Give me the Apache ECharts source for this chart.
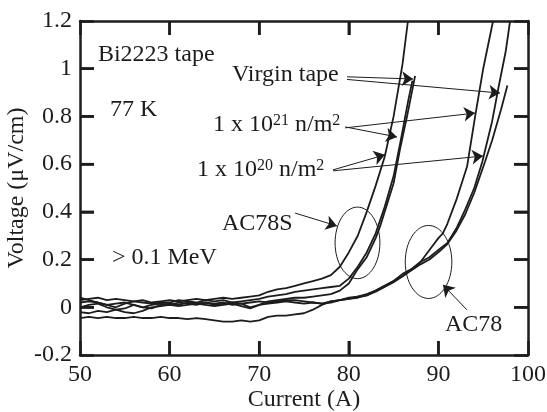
<!DOCTYPE html>
<html>
<head>
<meta charset="utf-8">
<script src="https://cdn.jsdelivr.net/npm/echarts@6/dist/echarts.min.js"></script>
<style>
html, body { margin: 0; padding: 0; background: #fff; }
#box1 { width: 547px; height: 412px; }
</style>
</head>
<body>
<div id="box1"></div>
<script>
// AC78S samples [current (A), voltage (uV/cm)]
var ac78s_1e20 = [[50,0.03],[51,0.035],[52,0.04],[53,0.03],[54,0.035],[55,0.03],[56,0.025],[57,0.03],[58,0.02],[59,0.025],[60,0.03],[61,0.025],[62,0.03],[63,0.035],[64,0.03],[65,0.035],[66,0.04],[67,0.035],[68,0.04],[69,0.045],[70,0.05],[71,0.065],[72,0.075],[73,0.08],[74,0.09],[75,0.1],[76,0.11],[77,0.12],[78,0.135],[79,0.17],[80,0.23],[81,0.3],[82,0.4],[83,0.51],[84,0.63],[85,0.8],[86,1.02],[86.6,1.2]];
var ac78s_1e21 = [[50,0.04],[51,0.03],[52,0.02],[53,0.01],[54,0.0],[55,0.015],[56,0.025],[57,0.02],[58,0.015],[59,0.02],[60,0.02],[61,0.03],[62,0.025],[63,0.02],[64,0.03],[65,0.025],[66,0.03],[67,0.02],[68,0.025],[69,0.03],[70,0.035],[71,0.045],[72,0.05],[73,0.055],[74,0.065],[75,0.07],[76,0.075],[77,0.08],[78,0.085],[79,0.09],[80,0.12],[81,0.17],[82,0.23],[83,0.31],[84,0.42],[85,0.55],[85.8,0.7],[86.6,0.86],[87.1,0.95]];
var ac78s_virgin = [[50,0.0],[51,0.01],[52,0.015],[53,0.0],[54,-0.01],[55,-0.005],[56,0.01],[57,0.0],[58,-0.005],[59,0.01],[60,0.015],[61,0.01],[62,0.02],[63,0.015],[64,0.02],[65,0.01],[66,0.015],[67,0.02],[68,0.015],[69,0.0],[70,0.01],[71,0.025],[72,0.03],[73,0.035],[74,0.04],[75,0.04],[76,0.045],[77,0.05],[78,0.055],[79,0.07],[80,0.1],[80.5,0.13],[81,0.16],[82,0.21],[83,0.29],[83.5,0.34],[84,0.4],[85,0.52],[85.7,0.66],[86.5,0.8],[87.4,0.97]];
// AC78 samples
var ac78_1e21 = [[50,0.02],[51,0.025],[52,0.02],[53,0.01],[54,0.015],[55,0.02],[56,0.01],[57,0.0],[58,0.01],[59,0.015],[60,0.01],[61,0.02],[62,0.015],[63,0.01],[64,0.02],[65,0.015],[66,0.02],[67,0.01],[68,0.015],[69,0.02],[70,0.025],[71,0.02],[72,0.025],[73,0.03],[74,0.03],[75,0.025],[76,0.02],[77,0.015],[78,0.025],[79,0.03],[80,0.04],[81,0.045],[82,0.05],[83,0.07],[84,0.09],[85,0.11],[86,0.14],[87,0.16],[88,0.19],[89,0.24],[90,0.29],[90.5,0.31],[91,0.35],[92,0.45],[93.2,0.59],[94.1,0.8],[95,1.0],[96.1,1.2]];
var ac78_1e20 = [[50,-0.02],[51,-0.025],[52,-0.015],[53,-0.02],[54,-0.01],[55,-0.02],[56,-0.025],[57,-0.015],[58,0.0],[59,0.005],[60,0.01],[61,0.005],[62,0.01],[63,0.015],[64,0.01],[65,0.005],[66,0.01],[67,0.015],[68,0.005],[69,-0.005],[70,0.01],[71,0.015],[72,0.02],[73,0.025],[74,0.02],[75,0.015],[76,0.02],[77,0.015],[78,0.02],[79,0.03],[80,0.035],[81,0.04],[82,0.05],[83,0.065],[84,0.085],[85,0.105],[86,0.13],[87,0.16],[88,0.19],[89,0.21],[90,0.24],[91,0.27],[92,0.33],[93,0.41],[94,0.5],[94.9,0.61],[96,0.78],[96.7,0.92],[97.5,1.07],[98,1.2]];
var ac78_virgin = [[50,-0.045],[51,-0.04],[52,-0.045],[53,-0.04],[54,-0.045],[55,-0.045],[56,-0.04],[57,-0.045],[58,-0.045],[59,-0.04],[60,-0.045],[61,-0.045],[62,-0.05],[63,-0.045],[64,-0.05],[65,-0.055],[66,-0.06],[67,-0.06],[68,-0.055],[69,-0.06],[70,-0.055],[71,-0.04],[72,-0.035],[73,-0.035],[74,-0.03],[75,-0.025],[76,-0.01],[77,0.01],[78,0.025],[79,0.03],[80,0.035],[81,0.045],[82,0.055],[83,0.07],[84,0.09],[85,0.11],[86,0.13],[87,0.155],[88,0.18],[89,0.2],[90,0.23],[91,0.265],[92,0.32],[93,0.39],[94,0.48],[95.2,0.61],[96,0.7],[97,0.83],[97.7,0.93]];

// tick positions on the frame
var xTicks = [60, 70, 80, 90];
var yTicks = [0, 0.2, 0.4, 0.6, 0.8, 1.0];

// annotations (data coords)
var labels = [
    {text: 'Bi2223 tape', at: [52.0, 1.058]},
    {text: '77 K', at: [53.35, 0.827]},
    {text: 'Virgin tape', at: [66.96, 0.974]},
    {text: '1 x 10{sup|21} n/m{sup|2}', at: [64.84, 0.764]},
    {text: '1 x 10{sup|20} n/m{sup|2}', at: [63.06, 0.575]},
    {text: 'AC78S', at: [65.85, 0.349]},
    {text: '> 0.1 MeV', at: [53.57, 0.207]},
    {text: 'AC78', at: [90.74, -0.074]}
];
var arrows = [
    [[79.8, 0.966], [87.17, 0.957]],
    [[79.8, 0.955], [96.87, 0.898]],
    [[79.6, 0.756], [85.38, 0.714]],
    [[79.6, 0.752], [94.08, 0.814]],
    [[78.24, 0.576], [84.04, 0.639]],
    [[78.24, 0.572], [94.98, 0.634]],
    [[74.0, 0.395], [78.68, 0.341]],
    [[93.19, -0.011], [90.51, 0.094]]
];
// ellipse: center, half width (A), half height (uV/cm)
var ellipses = [
    {c: [80.97, 0.27], rx: 2.5, ry: 0.15},
    {c: [88.9, 0.19], rx: 2.6, ry: 0.153}
];

var dom = document.getElementById("box1");
var myChart = echarts.init(dom);
var font = 'Liberation Serif';
var ink = '#1c1c1c';
var tickLen = 14;
var gridBox = {left: 80, right: 19, top: 21, bottom: 57};

function tick() {
    return {show: true, inside: true, length: tickLen, lineStyle: {color: ink, width: 2.5}};
}
function axLine() {
    return {show: true, onZero: false, lineStyle: {color: ink, width: 2.5}};
}

function curve(d) {
    return {
        type: 'line', data: d, showSymbol: false, symbol: 'none',
        lineStyle: {color: ink, width: 1.8},
        silent: true, animation: false
    };
}

var series = [ac78s_1e20, ac78s_1e21, ac78s_virgin, ac78_1e21, ac78_1e20, ac78_virgin].map(curve);
series[0].markLine = {
    silent: true,
    symbol: ['none', 'arrow'],
    symbolSize: 11,
    label: {show: false},
    lineStyle: {color: ink, width: 1, type: 'solid'},
    animation: false,
    data: arrows.map(function (a) { return [{coord: a[0]}, {coord: a[1]}]; })
};

option = {
    animation: false,
    grid: {left: gridBox.left, right: gridBox.right, top: gridBox.top, bottom: gridBox.bottom, outerBoundsMode: 'none'},
    xAxis: [
        {
            type: 'value', min: 50, max: 100, interval: 10,
            name: 'Current (A)', nameLocation: 'middle', nameGap: 33, nameMoveOverlap: false,
            nameTextStyle: {fontFamily: font, fontSize: 24, color: ink},
            axisLine: axLine(), axisTick: tick(),
            axisLabel: {fontFamily: font, fontSize: 24, color: ink, margin: 8},
            splitLine: {show: false}
        },
        {
            type: 'value', min: 50, max: 100, interval: 10, position: 'top',
            axisLine: axLine(), axisTick: tick(),
            axisLabel: {show: false}, splitLine: {show: false}
        }
    ],
    yAxis: [
        {
            type: 'value', min: -0.2, max: 1.2, interval: 0.2,
            name: 'Voltage (\u03bcV/cm)', nameLocation: 'middle', nameGap: 51, nameMoveOverlap: false,
            nameTextStyle: {fontFamily: font, fontSize: 24, color: ink},
            axisLine: axLine(), axisTick: tick(),
            axisLabel: {fontFamily: font, fontSize: 24, color: ink, margin: 8},
            splitLine: {show: false}
        },
        {
            type: 'value', min: -0.2, max: 1.2, interval: 0.2, position: 'right',
            axisLine: axLine(), axisTick: tick(),
            axisLabel: {show: false}, splitLine: {show: false}
        }
    ],
    series: series
};

if (option && typeof option === "object") {
    myChart.setOption(option, true);
}

function px(pt) {
    return myChart.convertToPixel({gridIndex: 0}, pt);
}

var W = myChart.getWidth(), H = myChart.getHeight();
var fl = gridBox.left, fr = W - gridBox.right, ft = gridBox.top, fb = H - gridBox.bottom;

var gfx = [];
xTicks.forEach(function (v) {
    var x = px([v, 0.5])[0];
    gfx.push({type: 'rect', silent: true, z: 100, shape: {x: x - 1.25, y: fb - tickLen, width: 2.5, height: tickLen}, style: {fill: ink}});
    gfx.push({type: 'rect', silent: true, z: 100, shape: {x: x - 1.25, y: ft, width: 2.5, height: tickLen}, style: {fill: ink}});
});
yTicks.forEach(function (v) {
    var y = px([75, v])[1];
    gfx.push({type: 'rect', silent: true, z: 100, shape: {x: fl, y: y - 1.25, width: tickLen, height: 2.5}, style: {fill: ink}});
    gfx.push({type: 'rect', silent: true, z: 100, shape: {x: fr - tickLen, y: y - 1.25, width: tickLen, height: 2.5}, style: {fill: ink}});
});

// texts and ellipses placed from data coords
labels.forEach(function (l) {
    var p = px(l.at);
    gfx.push({
        type: 'text', x: p[0], y: p[1], silent: true,
        style: {
            text: l.text, fill: ink, font: '24px "' + font + '"',
            verticalAlign: 'middle', align: 'left',
            rich: {
                sup: {fontFamily: font, fontSize: 16, fill: ink, verticalAlign: 'top', lineHeight: 16, padding: [0, 0, 10, 0]}
            }
        }
    });
});
ellipses.forEach(function (e) {
    var p = px(e.c);
    var q = px([e.c[0] + e.rx, e.c[1] + e.ry]);
    gfx.push({
        type: 'ellipse', silent: true,
        shape: {cx: p[0], cy: p[1], rx: Math.abs(q[0] - p[0]), ry: Math.abs(q[1] - p[1])},
        style: {fill: 'none', stroke: ink, lineWidth: 1}
    });
});

myChart.setOption({graphic: gfx});
</script>
</body>
</html>
